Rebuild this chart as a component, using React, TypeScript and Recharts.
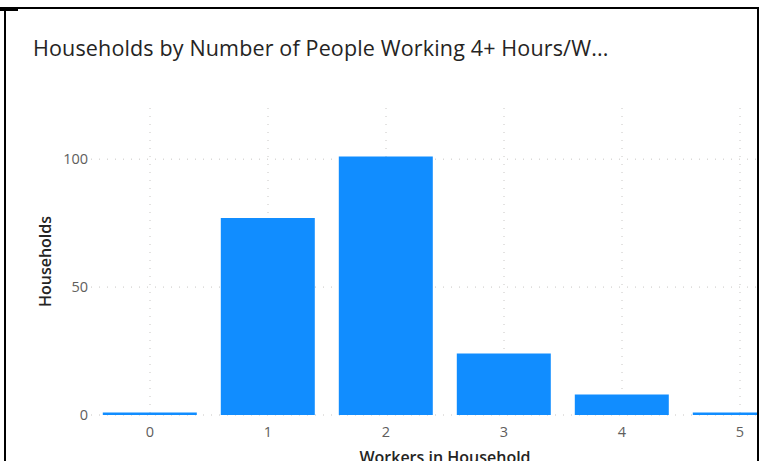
import { BarChart, Bar, XAxis, YAxis, CartesianGrid } from 'recharts';

const workers = ['0', '1', '2', '3', '4', '5'];
const households = [1, 77, 101, 24, 8, 1];
const yTicks = [0, 50, 100];

const data = workers.map((w, i) => ({ workers: w, households: households[i] }));

const FONT = '"Open Sans", "Noto Sans", sans-serif';

// vertical grid only at the category centres (no line on the plot's left edge)
const verticalAtCategories = (props: any /* eslint-disable-line @typescript-eslint/no-explicit-any */) => {
  const scale = props?.xAxis?.scale;
  if (scale && typeof scale === 'function' && typeof scale.bandwidth === 'function') {
    const bw = scale.bandwidth();
    return workers.map((w) => scale(w) + bw / 2);
  }
  const off = props?.offset;
  if (!off) return [];
  const band = off.width / workers.length;
  return workers.map((_, i) => off.left + band * (i + 0.5));
};

export default function App() {
  return (
    <div style={{ position: 'fixed', left: 0, top: 0, width: 768, height: 461, background: '#fff', overflow: 'hidden' }}>
      {/* card borders */}
      <div style={{ position: 'absolute', left: 0, top: 7, width: 759, height: 2, background: '#000' }} />
      <div style={{ position: 'absolute', left: 0, top: 9, width: 18, height: 2, background: '#000' }} />
      <div style={{ position: 'absolute', left: 4, top: 9, width: 2, height: 452, background: '#000' }} />
      <div style={{ position: 'absolute', left: 757, top: 7, width: 2, height: 454, background: '#000' }} />

      <div
        style={{
          position: 'absolute',
          left: 33,
          top: 33,
          fontFamily: FONT,
          fontSize: 21.5,
          letterSpacing: 0.15,
          color: '#252423',
          whiteSpace: 'nowrap',
        }}
      >
        Households by Number of People Working 4+ Hours/W...
      </div>

      <div style={{ position: 'absolute', left: 0, top: 0, width: 757, height: 461, overflow: 'hidden' }}>
        <BarChart
          width={800}
          height={461}
          data={data}
          margin={{ top: 108, right: 1, left: 0, bottom: 0 }}
          barCategoryGap="10%"
        >
          <CartesianGrid
            stroke="#c8c6c4"
            strokeDasharray="1 7"
            horizontalValues={yTicks}
            verticalCoordinatesGenerator={verticalAtCategories}
          />
          <XAxis
            dataKey="workers"
            axisLine={false}
            tickLine={false}
            tickSize={0}
            tickMargin={12}
            height={46}
            tick={{ fill: '#605e5c', fontSize: 14.5, fontFamily: FONT }}
            label={{
              value: 'Workers in Household',
              position: 'insideBottom',
              offset: -2,
              fill: '#252423',
              fontSize: 16,
              fontWeight: 600,
              fontFamily: FONT,
            }}
          />
          <YAxis
            domain={[0, 120]}
            ticks={yTicks}
            axisLine={false}
            tickLine={false}
            tickSize={0}
            tickMargin={3}
            width={91}
            tick={{ fill: '#605e5c', fontSize: 14.5, fontFamily: FONT }}
            label={{
              value: 'Households',
              angle: -90,
              position: 'center',
              fill: '#252423',
              fontSize: 16,
              fontWeight: 600,
              fontFamily: FONT,
            }}
          />
          <Bar dataKey="households" fill="#118dff" isAnimationActive={false} />
        </BarChart>
      </div>
    </div>
  );
}
